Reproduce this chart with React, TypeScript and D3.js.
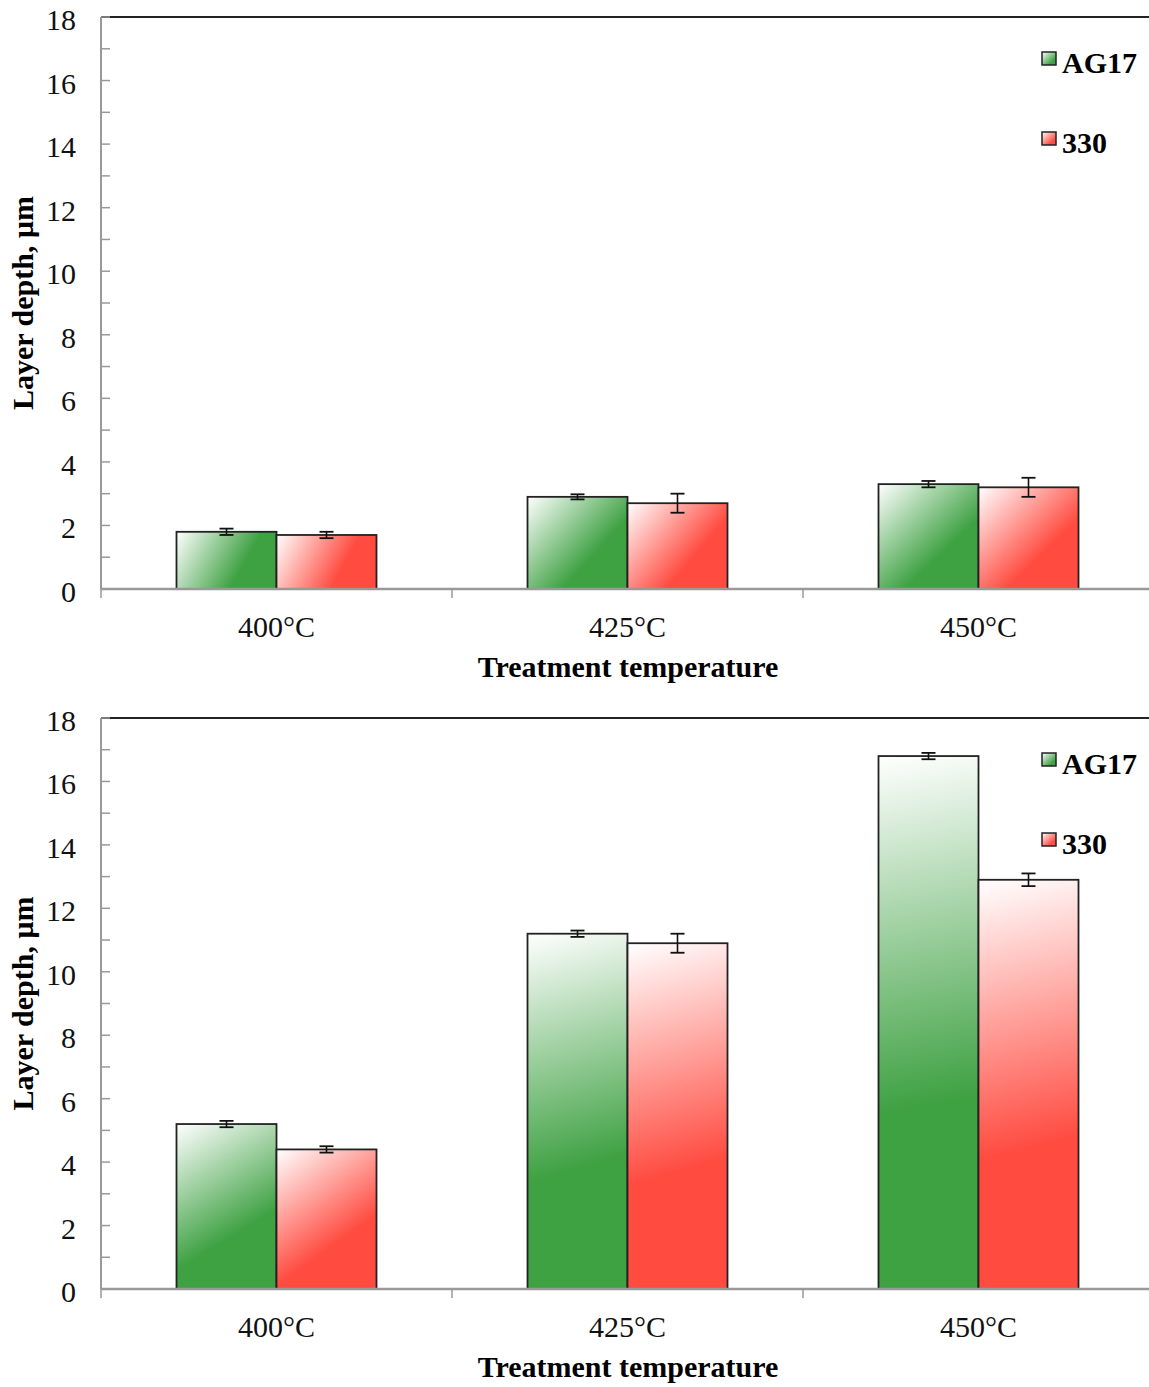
import React, { useEffect, useRef } from "react";
import * as d3 from "d3";

const categories = ["400°C", "425°C", "450°C"];
const seriesNames = ["AG17", "330"];
const seriesColors = ["#3ea142", "#ff4b40"];

// upper panel
const topAG17 = [1.8, 2.9, 3.3];
const topAG17Err = [0.1, 0.08, 0.1];
const top330 = [1.7, 2.7, 3.2];
const top330Err = [0.1, 0.3, 0.3];

// lower panel
const bottomAG17 = [5.2, 11.2, 16.8];
const bottomAG17Err = [0.1, 0.1, 0.1];
const bottom330 = [4.4, 10.9, 12.9];
const bottom330Err = [0.1, 0.3, 0.2];

const yTickLabels = [0, 2, 4, 6, 8, 10, 12, 14, 16, 18];
const yMinorTicks = d3.range(0, 19);

const serif = "'Liberation Serif', 'Times New Roman', serif";

function drawPanel(svg: any, id: string, top: number, bottom: number, vals: number[][], errs: number[][]) {
    const left = 101, right = 1154;
    const g = svg.append("g").attr("id", id);
    const defs = svg.select("defs");

    const x = d3.scaleBand<string>().domain(categories).range([left, right]).padding(0);
    const xs = d3.scaleBand<string>().domain(seriesNames).range([0, x.bandwidth()]).paddingInner(0).paddingOuter(0.755);
    const y = d3.scaleLinear().domain([0, 18]).range([bottom, top]);

    // top border of plot area
    g.append("line")
        .attr("x1", left).attr("x2", right)
        .attr("y1", y(18)).attr("y2", y(18))
        .attr("stroke", "#222").attr("stroke-width", 2);

    // y axis
    g.append("line")
        .attr("x1", left).attr("x2", left)
        .attr("y1", y(0)).attr("y2", y(18))
        .attr("stroke", "#999").attr("stroke-width", 2);
    g.selectAll(".ytick").data(yMinorTicks).enter().append("line")
        .attr("x1", left).attr("x2", left + 9)
        .attr("y1", (d: number) => y(d)).attr("y2", (d: number) => y(d))
        .attr("stroke", "#999").attr("stroke-width", 1.5);
    g.selectAll(".ylab").data(yTickLabels).enter().append("text")
        .attr("x", 76).attr("y", (d: number) => y(d) + 13)
        .attr("text-anchor", "end")
        .style("font-family", serif).style("font-size", "30px").attr("fill", "#111")
        .text((d: number) => d);

    // y title
    g.append("text")
        .attr("transform", "translate(33," + (top + bottom) / 2 + ") rotate(-90)")
        .attr("text-anchor", "middle")
        .style("font-family", serif).style("font-size", "30px").style("font-weight", "bold")
        .text("Layer depth, μm");

    // bars
    seriesNames.forEach((s, si) => {
        categories.forEach((c, ci) => {
            const bx = (x(c) as number) + (xs(s) as number);
            const bw = xs.bandwidth();
            const by = y(vals[si][ci]);
            const bh = y(0) - by;
            const gid = id + "-grad-" + si + "-" + ci;
            const grad = defs.append("linearGradient").attr("id", gid)
                .attr("gradientUnits", "userSpaceOnUse")
                .attr("x1", bx).attr("y1", by).attr("x2", bx + bw).attr("y2", by + bh);
            grad.append("stop").attr("offset", 0).attr("stop-color", "#ffffff");
            grad.append("stop").attr("offset", 0.65).attr("stop-color", seriesColors[si]);
            grad.append("stop").attr("offset", 1).attr("stop-color", seriesColors[si]);
            g.append("rect")
                .attr("x", bx).attr("y", by).attr("width", bw).attr("height", bh)
                .attr("fill", "url(#" + gid + ")")
                .attr("stroke", "#222").attr("stroke-width", 1.8);
        });
    });

    // x axis
    g.append("line")
        .attr("x1", left).attr("x2", right)
        .attr("y1", y(0)).attr("y2", y(0))
        .attr("stroke", "#999").attr("stroke-width", 2.5);
    const bounds = categories.map((c) => x(c) as number).concat([right]);
    g.selectAll(".xtick").data(bounds).enter().append("line")
        .attr("x1", (d: number) => d).attr("x2", (d: number) => d)
        .attr("y1", y(0)).attr("y2", y(0) + 9)
        .attr("stroke", "#999").attr("stroke-width", 1.5);
    g.selectAll(".xlab").data(categories).enter().append("text")
        .attr("x", (d: string) => (x(d) as number) + x.bandwidth() / 2)
        .attr("y", y(0) + 48)
        .attr("text-anchor", "middle")
        .style("font-family", serif).style("font-size", "30px").attr("fill", "#111")
        .text((d: string) => d);
    g.append("text")
        .attr("x", 628).attr("y", y(0) + 88)
        .attr("text-anchor", "middle")
        .style("font-family", serif).style("font-size", "30px").style("font-weight", "bold")
        .text("Treatment temperature");

    // error bars
    seriesNames.forEach((s, si) => {
        categories.forEach((c, ci) => {
            const cx = (x(c) as number) + (xs(s) as number) + xs.bandwidth() / 2;
            const hi = y(vals[si][ci] + errs[si][ci]);
            const lo = y(vals[si][ci] - errs[si][ci]);
            g.append("line").attr("x1", cx).attr("x2", cx).attr("y1", hi).attr("y2", lo)
                .attr("stroke", "#111").attr("stroke-width", 1.6);
            [hi, lo].forEach((yy) => {
                g.append("line").attr("x1", cx - 7).attr("x2", cx + 7).attr("y1", yy).attr("y2", yy)
                    .attr("stroke", "#111").attr("stroke-width", 1.8);
            });
        });
    });

    // legend
    seriesNames.forEach((s, si) => {
        const ly = top + 35 + si * 80;
        const gid = id + "-leg-" + si;
        const grad = defs.append("linearGradient").attr("id", gid)
            .attr("x1", 0).attr("y1", 0).attr("x2", 1).attr("y2", 1);
        grad.append("stop").attr("offset", 0).attr("stop-color", "#ffffff");
        grad.append("stop").attr("offset", 0.75).attr("stop-color", seriesColors[si]);
        g.append("rect")
            .attr("x", 1042).attr("y", ly).attr("width", 14).attr("height", 13)
            .attr("fill", "url(#" + gid + ")")
            .attr("stroke", "#222").attr("stroke-width", 1.5);
        g.append("text")
            .attr("x", 1062).attr("y", ly + 21)
            .style("font-family", serif).style("font-size", "30px").style("font-weight", "bold")
            .text(s);
    });
}

export default function App() {
    const ref = useRef<SVGSVGElement>(null);

    useEffect(() => {
        const svg = d3.select(ref.current);
        svg.selectAll("*").remove();
        svg.append("defs");
        drawPanel(svg, "upper", 17, 589, [topAG17, top330], [topAG17Err, top330Err]);
        drawPanel(svg, "lower", 718, 1289, [bottomAG17, bottom330], [bottomAG17Err, bottom330Err]);
    }, []);

    return (
        <svg ref={ref} width={1149} height={1387}
            style={{ position: "absolute", left: 0, top: 0, background: "#fff" }} />
    );
}
